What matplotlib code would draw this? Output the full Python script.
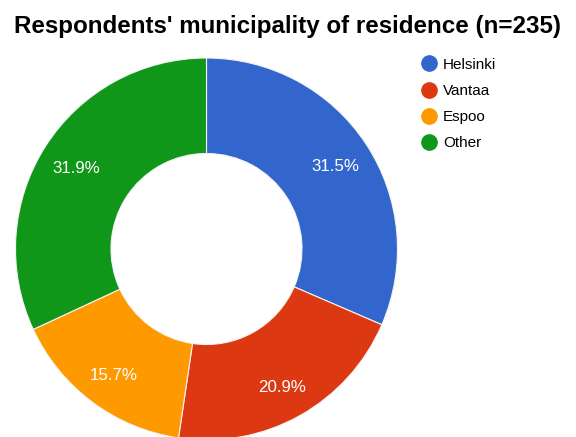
import matplotlib
matplotlib.use('Agg')
import matplotlib.pyplot as plt
from matplotlib.lines import Line2D

plt.rcParams['font.family'] = ['Liberation Sans', 'DejaVu Sans']

# respondents per municipality (n=235)
municipalities = ['Helsinki', 'Vantaa', 'Espoo', 'Other']
counts = [74, 49, 37, 75]
colors = ['#3366cc', '#dc3912', '#ff9900', '#109618']

W, H = 576, 437
fig = plt.figure(figsize=(W / 100, H / 100), dpi=100)

# donut axes: centre at (206, 249) px from top-left, outer radius 191 px
cx, cy, r = 206.5, 249, 191
ax = fig.add_axes([(cx - r) / W, (H - cy - r) / H, 2 * r / W, 2 * r / H])
wedges, _, autotexts = ax.pie(counts, colors=colors, startangle=90, counterclock=False,
                              autopct='%1.1f%%', pctdistance=0.81, radius=1,
                              wedgeprops=dict(width=0.5, edgecolor='#f4f4f4', linewidth=0.8),
                              textprops=dict(color='white', fontsize=12.2))
# nudge percentage labels down slightly
for t in autotexts:
    x, y = t.get_position()
    t.set_position((x, y - 0.015))
ax.set_xlim(-1, 1)
ax.set_ylim(-1, 1)
ax.set_aspect('equal')
ax.axis('off')

fig.text(0.5, 1 - 27 / H, "Respondents' municipality of residence (n=235)",
         ha='center', va='center', fontsize=17.4, fontweight='bold')

handles = [Line2D([], [], marker='o', linestyle='', markersize=11,
                  markerfacecolor=c, markeredgecolor=c) for c in colors]
fig.legend(handles, municipalities, loc='upper left',
           bbox_to_anchor=(414 / W, 1 - 50 / H), frameon=False,
           fontsize=11, labelspacing=0.8, handlelength=1.0, handletextpad=0.4,
           borderpad=0)

fig.savefig('out.png', dpi=100)
